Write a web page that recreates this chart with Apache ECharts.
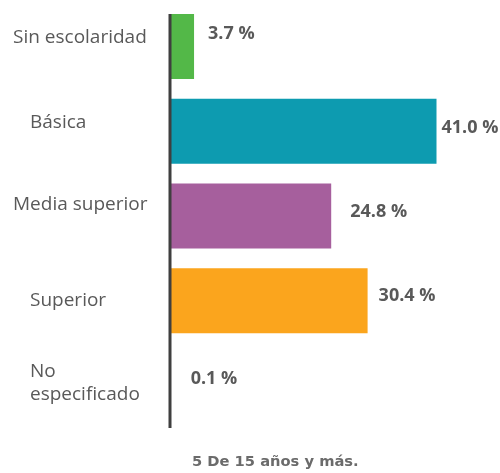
<!DOCTYPE html>
<html>
<head>
<meta charset="utf-8">
<script src="https://cdn.jsdelivr.net/npm/echarts@6/dist/echarts.min.js"></script>
<style>
    html, body { margin: 0; padding: 0; background: #fff; }
    #chart { width: 500px; height: 473px; }
</style>
</head>
<body>
<div id="chart"></div>
<script>
// datos
const categories = ['Sin escolaridad', 'Básica', 'Media superior', 'Superior', 'No especificado'];
const values = [3.7, 41.0, 24.8, 30.4, 0.1];
const barColors = ['#53b848', '#0d9bb0', '#a65f9d', '#fba51d', 'rgba(0,0,0,0)'];
const footnote = '5 De 15 años y más.';

// estilos de las etiquetas (cada texto va colocado a mano en el original)
const labelStyleKey = ['wide', 'narrow', 'wide2', 'narrowMid', 'twoLine'];
const valueGaps = [14, 5, 19, 11, 20];
const valueShifts = [-13, -3, -4, -5, -7];

const chart = echarts.init(document.getElementById('chart'));

const catFont = { fontFamily: 'Open Sans', fontSize: 19, color: '#595959' };

chart.setOption({
    animation: false,
    grid: { left: 170, top: 4, width: 325, height: 424 },
    xAxis: { type: 'value', min: 0, max: 50, show: false },
    yAxis: {
        type: 'category',
        data: categories,
        inverse: true,
        axisLine: { show: false },
        axisTick: { show: false },
        axisLabel: {
            align: 'left',
            margin: 157,
            formatter: (v, i) => {
                const txt = v === 'No especificado' ? 'No\nespecificado' : v;
                return txt.split('\n').map(t => '{' + labelStyleKey[i] + '|' + t + '}').join('\n');
            },
            rich: {
                wide: Object.assign({ padding: [0, 0, 18, 0] }, catFont),
                narrow: Object.assign({ padding: [0, 0, 18, 17] }, catFont),
                wide2: Object.assign({ padding: [0, 0, 22, 0] }, catFont),
                narrowMid: Object.assign({ padding: [0, 0, 0, 17] }, catFont),
                twoLine: Object.assign({ lineHeight: 23, padding: [0, 0, 6, 17] }, catFont)
            }
        }
    },
    series: [{
        type: 'bar',
        barWidth: 65,
        data: values.map((v, i) => ({
            value: v,
            itemStyle: { color: barColors[i] },
            label: { distance: valueGaps[i], offset: [0, valueShifts[i]] }
        })),
        label: {
            show: true,
            position: 'right',
            fontFamily: 'Open Sans',
            fontWeight: 'bold',
            fontSize: 18,
            color: '#595959',
            formatter: p => p.value.toFixed(1) + ' %'
        }
    }],
    graphic: [
        {
            type: 'line',
            shape: { x1: 170, y1: 14, x2: 170, y2: 428 },
            style: { stroke: '#3f3f3f', lineWidth: 3 },
            z: 10
        },
        {
            type: 'text',
            left: 192,
            top: 455,
            style: { text: footnote, fontFamily: 'DejaVu Sans', fontWeight: 'bold', fontSize: 14.7, fill: '#6b6b6b' }
        }
    ]
});
</script>
</body>
</html>
